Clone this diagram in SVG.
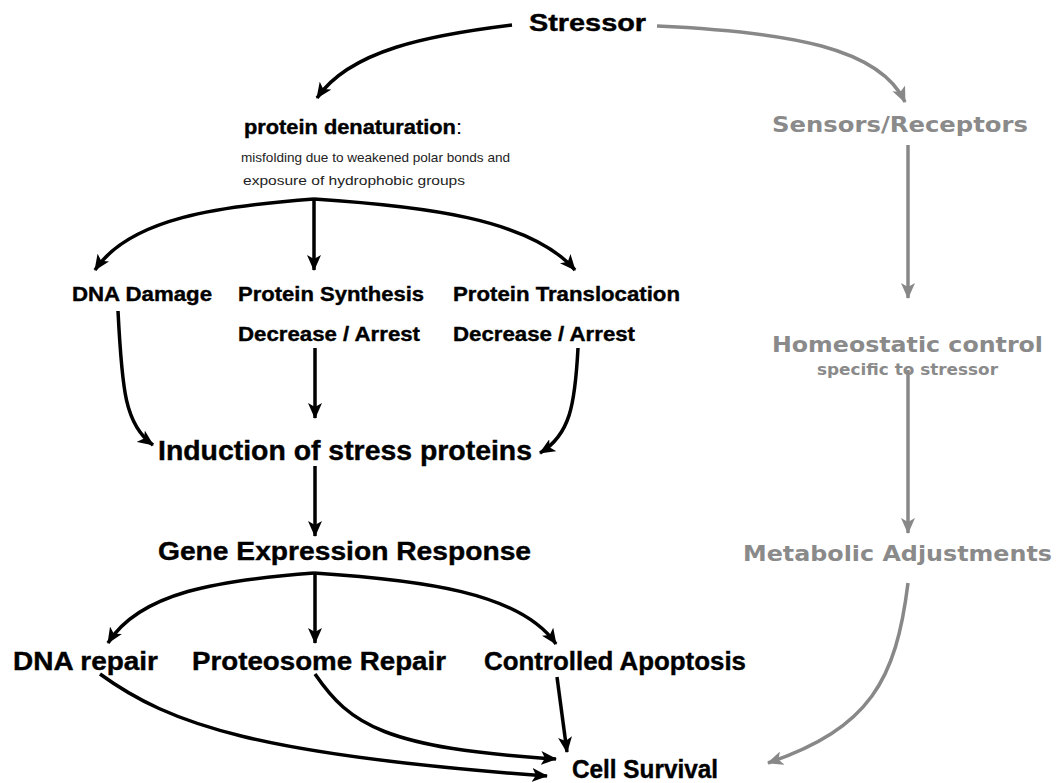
<svg xmlns="http://www.w3.org/2000/svg" width="1058" height="783" viewBox="0 0 1058 783">
<style>
text{font-family:"Liberation Sans",Arial,sans-serif;}
.b{font-weight:bold;fill:#000;stroke:#000;stroke-width:0.4;}
.g{font-family:"DejaVu Sans","Liberation Sans",sans-serif;font-weight:bold;fill:#8a8a8a;}
.s{fill:#222;font-size:13px;}
.k{fill:none;stroke:#000;stroke-width:3.5;}
.gr{fill:none;stroke:#888;stroke-width:3.5;}
</style>
<defs>
<marker id="ab" markerUnits="userSpaceOnUse" markerWidth="16" markerHeight="14" refX="15" refY="7" orient="auto"><path d="M0,0 L16,7 L0,14 L4,7 Z" fill="#000"/></marker>
<marker id="ag" markerUnits="userSpaceOnUse" markerWidth="16" markerHeight="14" refX="15" refY="7" orient="auto"><path d="M0,0 L16,7 L0,14 L4,7 Z" fill="#888"/></marker>
</defs>
<rect width="1058" height="783" fill="#fff"/>
<g id="connectors">
<path class="k" marker-end="url(#ab)" d="M512,25 C430,35 350,50 317,98"/>
<path class="k" marker-end="url(#ab)" d="M314,199 C220,206 130,218 95,270"/>
<path class="k" marker-end="url(#ab)" d="M314,199 V270"/>
<path class="k" marker-end="url(#ab)" d="M314,199 C420,206 530,218 575,270"/>
<path class="k" marker-end="url(#ab)" d="M118,311 C122,390 125,425 153,445"/>
<path class="k" marker-end="url(#ab)" d="M315,348 V418"/>
<path class="k" marker-end="url(#ab)" d="M578,348 C575,405 570,435 540,453"/>
<path class="k" marker-end="url(#ab)" d="M315,466 V536"/>
<path class="k" marker-end="url(#ab)" d="M314,573 C220,580 140,592 108,643"/>
<path class="k" marker-end="url(#ab)" d="M315,573 V643"/>
<path class="k" marker-end="url(#ab)" d="M314,573 C420,580 520,592 556,644"/>
<path class="k" marker-end="url(#ab)" d="M100,674 C170,725 260,755 547,776"/>
<path class="k" marker-end="url(#ab)" d="M315,674 C350,725 385,748 556,759"/>
<path class="k" marker-end="url(#ab)" d="M557,677 L567,752"/>
<path class="gr" marker-end="url(#ag)" d="M657,26 C790,32 880,48 905,102"/>
<path class="gr" marker-end="url(#ag)" d="M908,145 V298"/>
<path class="gr" marker-end="url(#ag)" d="M908,370 V533"/>
<path class="gr" marker-end="url(#ag)" d="M908,583 C896,680 870,728 768,763"/>
</g>
<g id="stressor"><text class="b" x="529" y="31" font-size="23" textLength="117" lengthAdjust="spacingAndGlyphs">Stressor</text></g>
<g id="denaturation">
<text class="b" x="244" y="134" font-size="20" textLength="218" lengthAdjust="spacingAndGlyphs">protein denaturation<tspan font-weight="normal" stroke-width="0">:</tspan></text>
<text class="s" x="241" y="162" textLength="269" lengthAdjust="spacingAndGlyphs">misfolding due to weakened polar bonds and</text>
<text class="s" x="243" y="185" textLength="222" lengthAdjust="spacingAndGlyphs">exposure of hydrophobic groups</text>
</g>
<g id="dna-damage"><text class="b" x="72" y="301" font-size="21" textLength="140" lengthAdjust="spacingAndGlyphs">DNA Damage</text></g>
<g id="synthesis">
<text class="b" x="238" y="301" font-size="21" textLength="186" lengthAdjust="spacingAndGlyphs">Protein Synthesis</text>
<text class="b" x="238" y="341" font-size="21" textLength="182" lengthAdjust="spacingAndGlyphs">Decrease / Arrest</text>
</g>
<g id="translocation">
<text class="b" x="453" y="301" font-size="21" textLength="227" lengthAdjust="spacingAndGlyphs">Protein Translocation</text>
<text class="b" x="453" y="341" font-size="21" textLength="182" lengthAdjust="spacingAndGlyphs">Decrease / Arrest</text>
</g>
<g id="induction"><text class="b" x="158" y="460" font-size="27" textLength="374" lengthAdjust="spacingAndGlyphs" stroke-width="0.2">Induction of stress proteins</text></g>
<g id="gene-expression"><text class="b" x="158" y="560" font-size="26" textLength="373" lengthAdjust="spacingAndGlyphs">Gene Expression Response</text></g>
<g id="dna-repair"><text class="b" x="13" y="670" font-size="26" textLength="145" lengthAdjust="spacingAndGlyphs">DNA repair</text></g>
<g id="proteosome"><text class="b" x="192" y="670" font-size="26" textLength="254" lengthAdjust="spacingAndGlyphs">Proteosome Repair</text></g>
<g id="apoptosis"><text class="b" x="484" y="670" font-size="26" textLength="262" lengthAdjust="spacingAndGlyphs">Controlled Apoptosis</text></g>
<g id="cell-survival"><text class="b" x="572" y="778" font-size="26" textLength="146" lengthAdjust="spacingAndGlyphs">Cell Survival</text></g>
<g id="sensors"><text class="g" x="772" y="132" font-size="22" textLength="256" lengthAdjust="spacingAndGlyphs">Sensors/Receptors</text></g>
<g id="homeostatic">
<text class="g" x="772" y="352" font-size="22" textLength="271" lengthAdjust="spacingAndGlyphs">Homeostatic control</text>
<text class="g" x="817" y="375" font-size="15" textLength="181" lengthAdjust="spacingAndGlyphs">specific to stressor</text>
</g>
<g id="metabolic"><text class="g" x="743" y="561" font-size="22" textLength="309" lengthAdjust="spacingAndGlyphs">Metabolic Adjustments</text></g>
</svg>
